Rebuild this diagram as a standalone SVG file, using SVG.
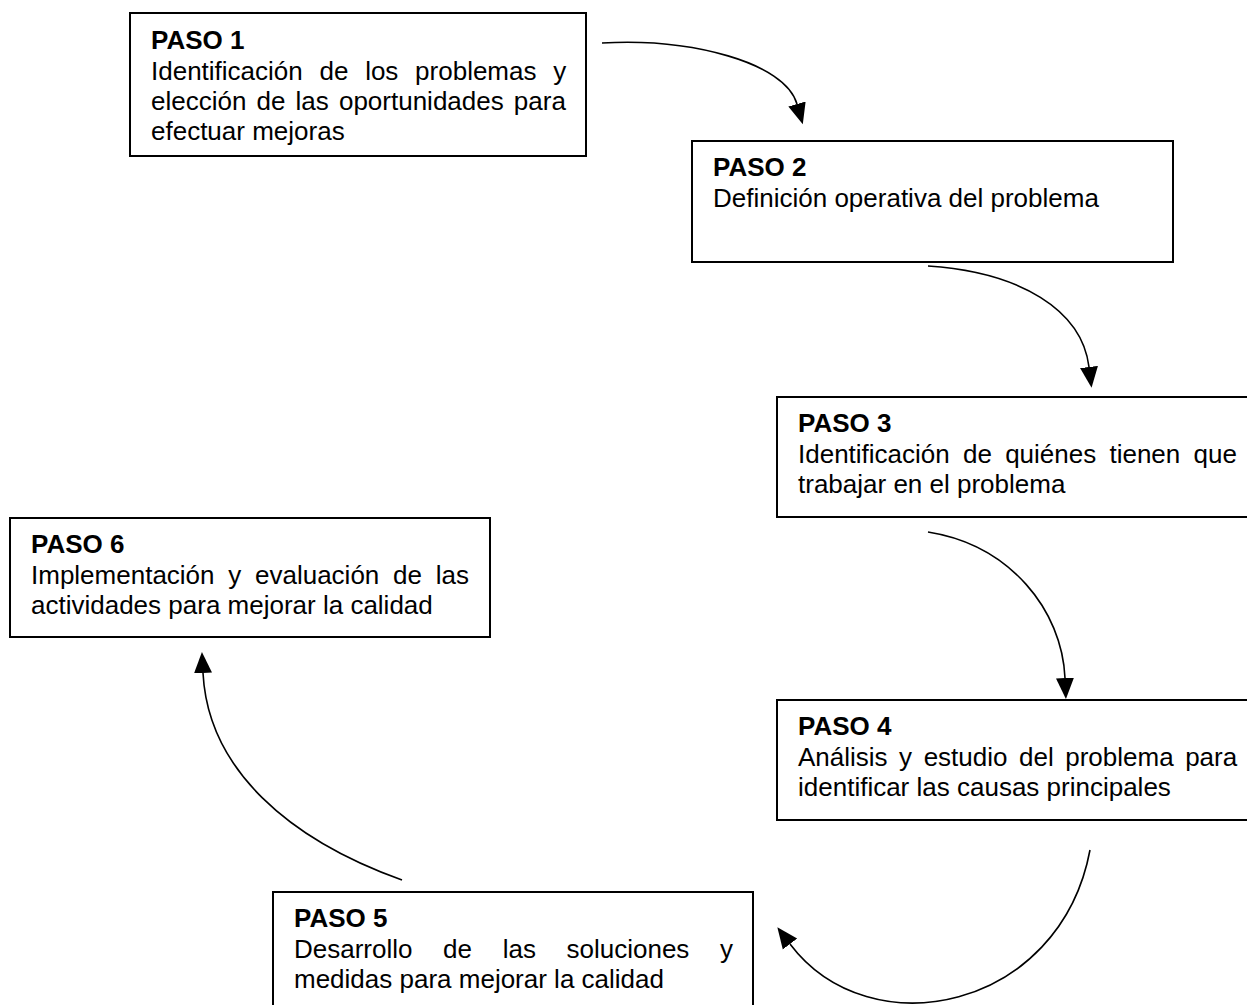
<svg xmlns="http://www.w3.org/2000/svg" width="1247" height="1005" viewBox="0 0 1247 1005">
<style>
.box{fill:#fff;stroke:#000;stroke-width:2}
.t{font-family:"Liberation Sans",Arial,sans-serif;font-size:26px;fill:#000}
.b{font-weight:bold}
.c{fill:none;stroke:#000;stroke-width:1.6}
</style>
<defs>
<marker id="ah" markerUnits="userSpaceOnUse" markerWidth="22" markerHeight="20" refX="0" refY="9" orient="auto" viewBox="0 0 22 18">
<path d="M0,0 L21,9 L0,18 Z" fill="#000"/>
</marker>
</defs>
<rect width="1247" height="1005" fill="#fff"/>
<g id="connectors">
<path class="c" d="M602,43 C690,38 785,62 797,104" marker-end="url(#ah)"/>
<path class="c" d="M928,266 C1020,272 1082,310 1089,367" marker-end="url(#ah)"/>
<path class="c" d="M928,532 C1010,545 1062,610 1065,678" marker-end="url(#ah)"/>
<path class="c" d="M1090,850 C1060,1010 870,1050 790,944" marker-end="url(#ah)"/>
<path class="c" d="M402,880 C290,840 208,770 203,673" marker-end="url(#ah)"/>
</g>
<g id="paso1">
<rect class="box" x="130" y="13" width="456" height="143"/>
<text class="t b" x="151" y="49">PASO 1</text>
<text class="t" x="151" y="80" word-spacing="9.5">Identificación de los problemas y</text>
<text class="t" x="151" y="110" word-spacing="2.9">elección de las oportunidades para</text>
<text class="t" x="151" y="140">efectuar mejoras</text>
</g>
<g id="paso2">
<rect class="box" x="692" y="141" width="481" height="121"/>
<text class="t b" x="713" y="176">PASO 2</text>
<text class="t" x="713" y="207">Definición operativa del problema</text>
</g>
<g id="paso3">
<rect class="box" x="777" y="397" width="481" height="120"/>
<text class="t b" x="798" y="432">PASO 3</text>
<text class="t" x="798" y="463" word-spacing="6">Identificación de quiénes tienen que</text>
<text class="t" x="798" y="493">trabajar en el problema</text>
</g>
<g id="paso4">
<rect class="box" x="777" y="700" width="481" height="120"/>
<text class="t b" x="798" y="735">PASO 4</text>
<text class="t" x="798" y="766" word-spacing="4.3">Análisis y estudio del problema para</text>
<text class="t" x="798" y="796">identificar las causas principales</text>
</g>
<g id="paso5">
<rect class="box" x="273" y="892" width="480" height="130"/>
<text class="t b" x="294" y="927">PASO 5</text>
<text class="t" x="294" y="958" word-spacing="23.4">Desarrollo de las soluciones y</text>
<text class="t" x="294" y="988">medidas para mejorar la calidad</text>
</g>
<g id="paso6">
<rect class="box" x="10" y="518" width="480" height="119"/>
<text class="t b" x="31" y="553">PASO 6</text>
<text class="t" x="31" y="584" word-spacing="6.5">Implementación y evaluación de las</text>
<text class="t" x="31" y="614">actividades para mejorar la calidad</text>
</g>
</svg>
